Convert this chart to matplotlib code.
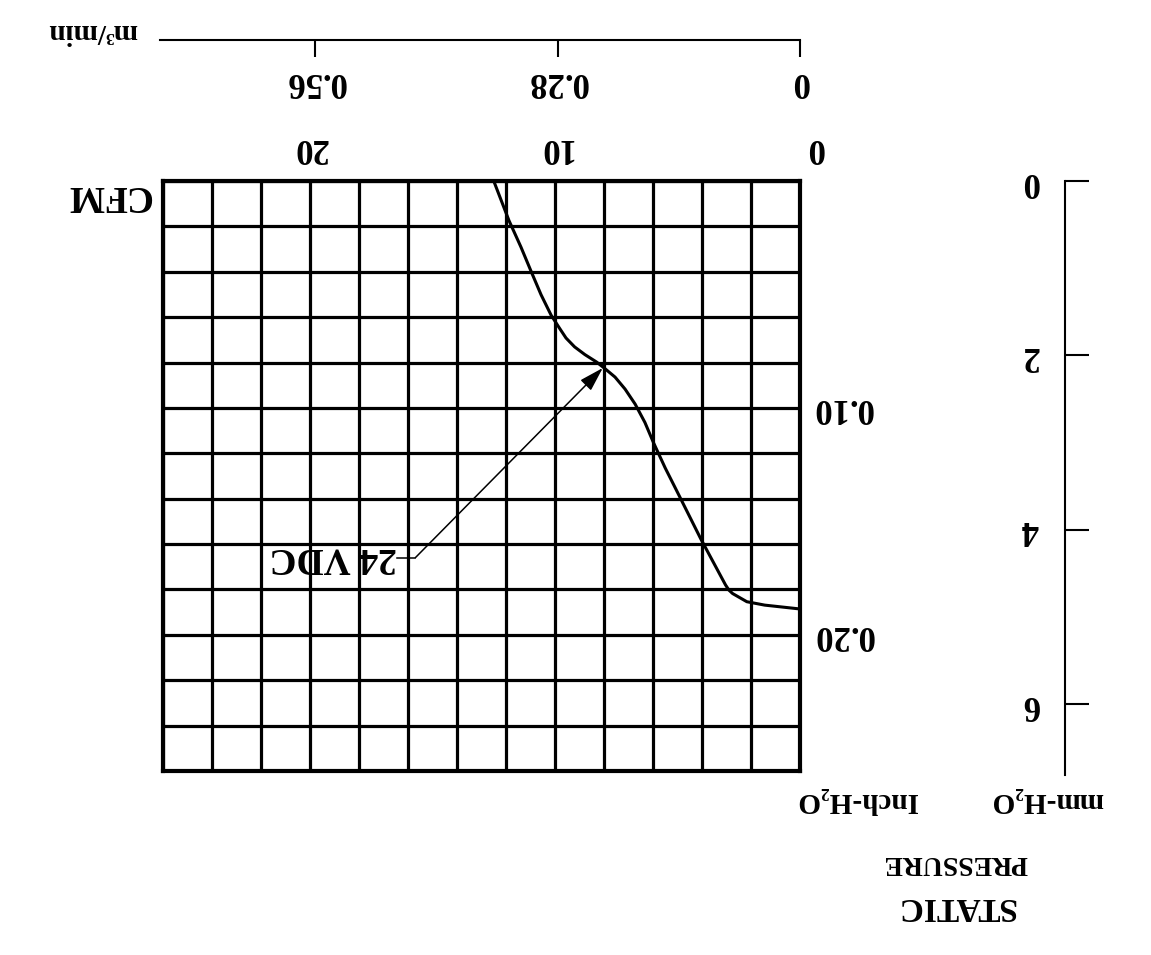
import numpy as np
import matplotlib.pyplot as plt
from matplotlib.transforms import ScaledTranslation

plt.rcParams['font.family'] = ['Liberation Serif', 'DejaVu Serif']
plt.rcParams['font.weight'] = 'bold'

# fan curve (drawn upside down, like the scan)
curve_cfm = [12.50, 11.88, 11.39, 10.98, 10.57, 10.16, 9.82, 9.55, 9.20, 8.78, 8.30,
             7.96, 7.55, 7.14, 6.73, 6.33, 5.98, 5.50, 5.07, 4.05, 3.04, 2.90, 2.75,
             2.17, 1.44, 0.0]
curve_inch = [0.000, 0.0174, 0.0291, 0.0397, 0.0501, 0.0591, 0.0648, 0.0692, 0.0731, 0.0765, 0.0798,
              0.0827, 0.0864, 0.0917, 0.0983, 0.1064, 0.1153, 0.1265, 0.1357, 0.1577, 0.178, 0.1803, 0.1818,
              0.1854, 0.1869, 0.1886]

cfm_ticks = [0, 10, 20]
inch_ticks = [0.10, 0.20]
m3_ticks = [0, 0.28, 0.56]
mm_ticks = [0, 2, 4, 6]

cfm_max = 26
inch_max = 0.26
mm_max = 6.81
cfm_to_m3 = 0.0283168

label_name = "24 VDC"
label_tip = (8.05, 0.0824)
label_elbow = (15.7, 0.166)
label_text_at = (16.45, 0.166)

W, H = 1151, 955
fig = plt.figure(figsize=(W / 100, H / 100), dpi=100)
fs = 25

# main grid
ax = fig.add_axes([163 / W, 1 - 771 / H, 637 / W, 590 / H])
ax.set_xlim(cfm_max, 0)
ax.set_ylim(inch_max, 0)
ax.set_xticks(cfm_ticks)
ax.set_xticks(np.arange(0, cfm_max + 1, 2), minor=True)
ax.set_yticks(inch_ticks)
ax.set_yticks(np.arange(0, inch_max + 0.001, 0.02), minor=True)
ax.set_xticklabels([str(v) for v in cfm_ticks])
ax.set_yticklabels([f"{v:.2f}" for v in inch_ticks], va='center')
ax.xaxis.tick_top()
ax.yaxis.tick_right()
ax.tick_params(axis='both', which='both', length=0, labelsize=fs)
ax.tick_params(axis='x', pad=12, labelrotation=180)
ax.tick_params(axis='y', pad=9, labelrotation=180)
ax.grid(True, which='both', color='black', lw=2.3)
for s in ax.spines.values():
    s.set_linewidth(3.0)
# the "0" sits a little right of the corner in the original
lab0 = ax.get_xticklabels()[0]
lab0.set_transform(lab0.get_transform() + ScaledTranslation(0.15, 0, fig.dpi_scale_trans))

ax.plot(curve_cfm, curve_inch, color='black', lw=2.2, zorder=5)

# leader for the curve label
ax.plot([label_text_at[0], label_elbow[0]], [label_elbow[1], label_elbow[1]],
        color='black', lw=1.1, zorder=5)
ax.annotate("", xy=label_tip, xytext=label_elbow,
            arrowprops=dict(arrowstyle='-|>,head_length=1.5,head_width=0.45',
                            color='black', lw=1.1, shrinkA=0, shrinkB=0), zorder=6)
ax.text(label_text_at[0], label_text_at[1], label_name, rotation=180, fontsize=27,
        ha='right', va='center', zorder=6)

# m3/min scale
ax_m3 = fig.add_axes([160 / W, 1 - 40 / H, 640 / W, 0.01])
ax_m3.set_xlim(cfm_max * cfm_to_m3 * 640 / 637, 0)
ax_m3.set_xticks(m3_ticks)
ax_m3.set_xticklabels([str(v) for v in m3_ticks])
ax_m3.set_yticks([])
ax_m3.patch.set_visible(False)
for k in ['top', 'left', 'right']:
    ax_m3.spines[k].set_visible(False)
ax_m3.spines['bottom'].set_linewidth(1.5)
ax_m3.tick_params(axis='x', direction='out', length=12, width=1.5, labelsize=fs,
                  labelrotation=180, pad=6)

# mm-H2O scale
ax_mm = fig.add_axes([1065 / W, 1 - 775 / H, 0.02, (775 - 181) / H])
ax_mm.set_ylim(mm_max, 0)
ax_mm.set_yticks(mm_ticks)
ax_mm.set_yticklabels([str(v) for v in mm_ticks], va='center')
ax_mm.set_xticks([])
ax_mm.patch.set_visible(False)
for k in ['top', 'bottom', 'right']:
    ax_mm.spines[k].set_visible(False)
ax_mm.spines['left'].set_linewidth(1.5)
ax_mm.tick_params(axis='y', direction='in', length=17, width=1.5, labelsize=fs,
                  labelrotation=180, pad=19)

# axis titles
fig.text(108 / W, 1 - 196 / H, "CFM", rotation=180, fontsize=27, ha='center', va='center')
fig.text(92 / W, 1 - 31 / H, "m³/min", rotation=180, fontsize=21, ha='center', va='center')
fig.text(857 / W, 1 - 800 / H, "Inch-H₂O", rotation=180, fontsize=21, ha='center', va='center')
fig.text(1047 / W, 1 - 800 / H, "mm-H₂O", rotation=180, fontsize=21, ha='center', va='center')
fig.text(956 / W, 1 - 906 / H, "STATIC", rotation=180, fontsize=24, ha='center', va='center')
fig.text(955 / W, 1 - 862 / H, "PRESSURE", rotation=180, fontsize=20, ha='center', va='center')

fig.savefig("out.png", dpi=100)
